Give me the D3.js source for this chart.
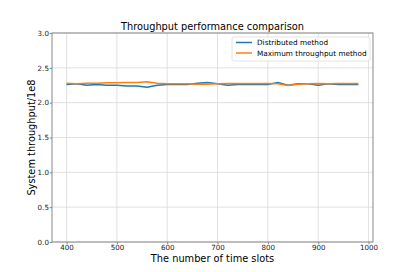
<!DOCTYPE html>
<html>
<head>
<meta charset="utf-8">
<script src="https://cdn.jsdelivr.net/npm/d3@7"></script>
<style>
  body { margin: 0; background: #fff; }
  text { font-family: "DejaVu Sans", sans-serif; fill: #000; }
</style>
</head>
<body>
<div class="chart"></div>
<script>
// time slots on x
const slots = [400,420,440,460,480,500,520,540,560,580,600,620,640,660,680,700,720,740,760,780,800,820,840,860,880,900,920,940,960,980]
// throughput (1e8)
const distributed = [2.26,2.27,2.25,2.26,2.25,2.25,2.24,2.24,2.22,2.25,2.26,2.26,2.26,2.28,2.29,2.27,2.25,2.26,2.26,2.26,2.26,2.29,2.25,2.27,2.27,2.25,2.27,2.26,2.26,2.26]
const maxThroughput = [2.28,2.27,2.28,2.28,2.285,2.285,2.29,2.29,2.30,2.28,2.27,2.27,2.27,2.265,2.265,2.27,2.275,2.275,2.275,2.275,2.275,2.27,2.245,2.265,2.27,2.275,2.27,2.275,2.275,2.275]
const xTicks = [400,500,600,700,800,900,1000]
const yTicks = [0,0.5,1,1.5,2,2.5,3]
const seriesNames = ["Distributed method", "Maximum throughput method"]
const colors = ["#1f77b4", "#ff7f0e"]

let width = 415, height = 272
let margin = {left: 52, right: 42, top: 33, bottom: 30}

let svg = d3.select(".chart")
  .append("svg")
  .attr("width", width)
  .attr("height", height)

let x = d3.scaleLinear()
  .domain([371, 1009])
  .range([margin.left, width - margin.right])

let y = d3.scaleLinear()
  .domain([0, 3])
  .range([height - margin.bottom, margin.top])

// grid
svg.append("g").selectAll("line")
  .data(xTicks)
  .enter()
  .append("line")
  .attr("x1", d => x(d)).attr("x2", d => x(d))
  .attr("y1", y(0)).attr("y2", y(3))
  .style("stroke", "#d9d9d9")
  .style("stroke-width", 0.8)

svg.append("g").selectAll("line")
  .data(yTicks)
  .enter()
  .append("line")
  .attr("x1", x.range()[0]).attr("x2", x.range()[1])
  .attr("y1", d => y(d)).attr("y2", d => y(d))
  .style("stroke", "#d9d9d9")
  .style("stroke-width", 0.8)

// axes
svg.append("g")
  .attr("transform", "translate(0," + y(0) + ")")
  .call(d3.axisBottom(x).tickValues(xTicks).tickFormat(d3.format("d")).tickSize(2.3).tickPadding(0.5))

svg.append("g")
  .attr("transform", "translate(" + x.range()[0] + ",0)")
  .call(d3.axisLeft(y).tickValues(yTicks).tickFormat(d3.format(".1f")).tickSize(2.3).tickPadding(0.8))

svg.selectAll(".domain").remove()
svg.selectAll(".tick line").style("stroke", "#888")
svg.selectAll(".tick text").style("font-size", "7.1px").style("font-family", "DejaVu Sans").style("fill", "#222")

// frame
svg.append("rect")
  .attr("x", x.range()[0])
  .attr("y", y(3))
  .attr("width", x.range()[1] - x.range()[0])
  .attr("height", y(0) - y(3))
  .style("fill", "none")
  .style("stroke", "#888")
  .style("stroke-width", 1)

// lines
let line = d3.line()
  .x((d, i) => x(slots[i]))
  .y(d => y(d))

;[distributed, maxThroughput].forEach((s, i) => {
  svg.append("path")
    .datum(s)
    .attr("d", line)
    .style("fill", "none")
    .style("stroke", colors[i])
    .style("stroke-width", 1.5)
})

// title and labels
svg.append("text")
  .attr("x", (x.range()[0] + x.range()[1]) / 2)
  .attr("y", 30)
  .attr("text-anchor", "middle")
  .style("font-size", "9.8px")
  .text("Throughput performance comparison")

svg.append("text")
  .attr("x", (x.range()[0] + x.range()[1]) / 2)
  .attr("y", 261.5)
  .attr("text-anchor", "middle")
  .style("font-size", "9.8px")
  .text("The number of time slots")

svg.append("text")
  .attr("transform", "translate(35," + (y(1.5)) + ") rotate(-90)")
  .attr("text-anchor", "middle")
  .style("font-size", "9.8px")
  .text("System throughput/1e8")

// legend
let legend = svg.append("g")
legend.append("rect")
  .attr("x", 232).attr("y", 37)
  .attr("width", 138).attr("height", 24)
  .attr("rx", 2)
  .style("fill", "#fff")
  .style("fill-opacity", 0.8)
  .style("stroke", "#ddd")
  .style("stroke-width", 0.8)

seriesNames.forEach((n, i) => {
  legend.append("line")
    .attr("x1", 236).attr("x2", 252)
    .attr("y1", 42.5 + i * 10.5).attr("y2", 42.5 + i * 10.5)
    .style("stroke", colors[i])
    .style("stroke-width", 1.5)
  legend.append("text")
    .attr("x", 257)
    .attr("y", 45 + i * 10.5)
    .style("font-size", "7.3px")
    .text(n)
})
</script>
</body>
</html>
